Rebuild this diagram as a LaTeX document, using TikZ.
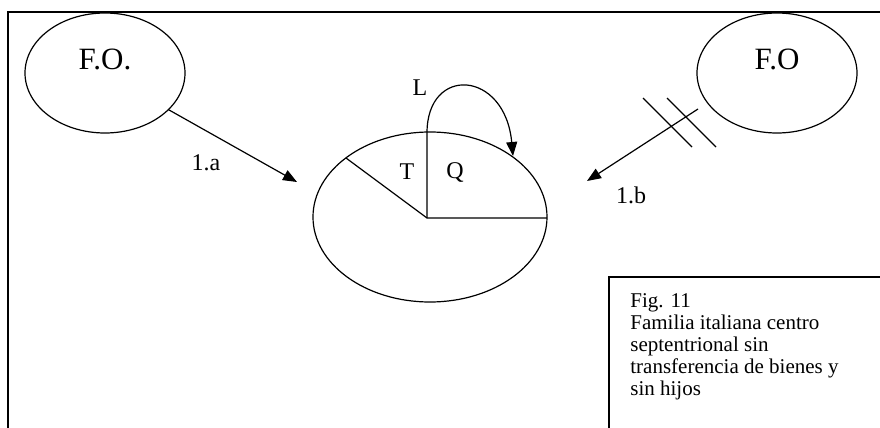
\documentclass[tikz,border=0pt]{standalone}
\usepackage{fontspec}
\setmainfont{Liberation Serif}
\usetikzlibrary{arrows.meta,positioning,shapes.geometric}

\begin{document}
\begin{tikzpicture}[x=0.5pt, y=-0.5pt,
  oval/.style={ellipse, draw, line width=0.6pt, inner sep=0pt, outer sep=0pt},
  arrow/.style={-{Triangle[length=7pt, width=5.5pt]}, line width=0.6pt},
  big/.style={font=\fontsize{15.5}{18}\selectfont},
  lbl/.style={font=\fontsize{12}{14}\selectfont, inner sep=0pt}
]
\useasboundingbox (0,0) rectangle (880,428);

% Outer frame
\draw[line width=0.7pt] (880,12) -- (8,12) -- (8,428);

% Families of origin
\node[oval, minimum width=80pt, minimum height=60pt] (fo1) at (105,73) {};
\node[big] (fo1txt) at (105,59) {F.O.};
\node[oval, minimum width=80pt, minimum height=60pt] (fo2) at (777,73) {};
\node[big] (fo2txt) at (777,59) {F.O};

% New household
\node[oval, minimum width=117pt, minimum height=85pt] (home) at (430,217) {};
\coordinate (pc) at (427,218);
\coordinate (rayend) at (346,158);
\coordinate (rimtop) at (427,133);
\coordinate (loopend) at (513,156);
\draw[line width=0.6pt] (rayend) -- (pc) -- (547,218);
\draw[arrow] (pc) -- (rimtop) .. controls (427,65) and (505,70) .. (loopend);
\node[lbl] (lL) at (420,88) {L};
\node[lbl] (lT) at (407,172) {T};
\node[lbl] (lQ) at (455,172) {Q};

% Links to the families of origin
\coordinate (atip) at (297,182);
\draw[arrow] (fo1.-30) -- (atip);
\node[lbl] (la) at (206,163) {1.a};
\coordinate (bstart) at (698,109);
\coordinate (btip) at (587,181);
\draw[arrow] (bstart) -- (btip);
\draw[line width=0.6pt] (643,98) -- (692,147);
\draw[line width=0.6pt] (667,98) -- (716,147);
\node[lbl] (lb) at (631,195) {1.b};

% Caption
\draw[line width=0.7pt] (880,277) -- (609,277) -- (609,428);
\node[anchor=north west, align=left, inner sep=0pt,
      font=\fontsize{10.5}{11}\selectfont] (caption) at (630,293)
  {Fig. 11\\Familia italiana centro\\septentrional sin\\transferencia de bienes y\\sin hijos};
\end{tikzpicture}
\end{document}
